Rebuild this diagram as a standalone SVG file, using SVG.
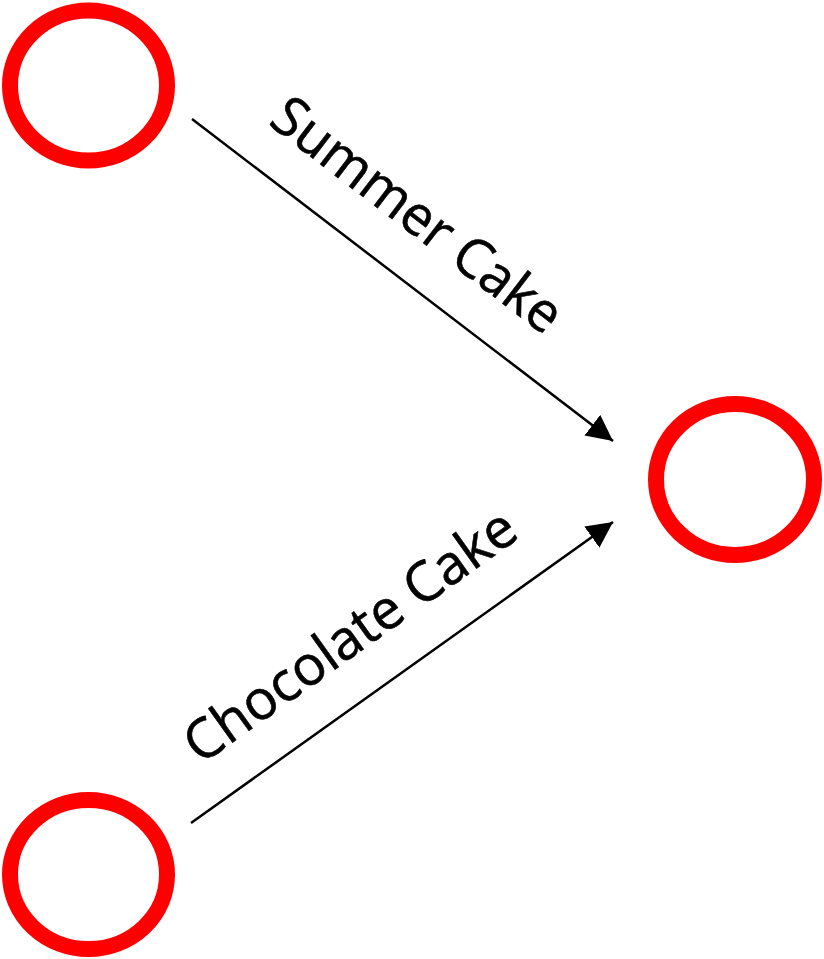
<svg xmlns="http://www.w3.org/2000/svg" width="824" height="959" viewBox="0 0 824 959">
<style>
.node{fill:none;stroke:#FF0000;stroke-width:16}
.edge{stroke:#000;stroke-width:2.5;fill:none}
.lbl{font-family:"Open Sans","Liberation Sans",sans-serif;font-size:55px;fill:#000;stroke:#000;stroke-width:0.6;text-anchor:middle}
</style>
<defs>
<marker id="arr" markerUnits="userSpaceOnUse" viewBox="0 0 26 26" refX="26" refY="13" markerWidth="26" markerHeight="26" orient="auto">
<path d="M0,0 L26,13 L0,26 z" fill="#000"/>
</marker>
</defs>
<rect width="824" height="959" fill="#fff"/>
<g id="n1"><ellipse class="node" cx="88.5" cy="85.5" rx="78.5" ry="75"/></g>
<g id="n2"><ellipse class="node" cx="735" cy="479.5" rx="79" ry="75.5"/></g>
<g id="n3"><ellipse class="node" cx="88.5" cy="874.5" rx="78.5" ry="74.5"/></g>
<g id="edges">
<line class="edge" x1="192" y1="119" x2="613" y2="441" marker-end="url(#arr)"/>
<line class="edge" x1="191" y1="823" x2="613" y2="522" marker-end="url(#arr)"/>
<text class="lbl" transform="translate(406,229.8) rotate(37.4)" textLength="350" lengthAdjust="spacingAndGlyphs">Summer Cake</text>
<text class="lbl" transform="translate(361,651) rotate(-35.5)" textLength="394" lengthAdjust="spacingAndGlyphs">Chocolate Cake</text>
</g>
</svg>
